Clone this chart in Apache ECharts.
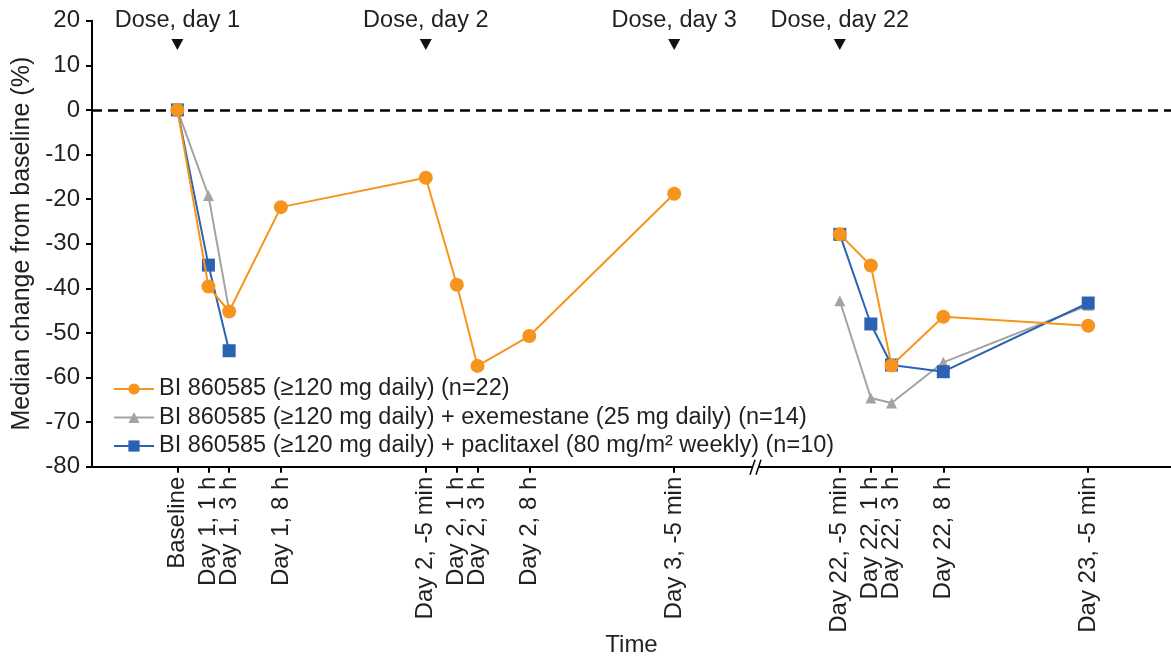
<!DOCTYPE html>
<html>
<head>
<meta charset="utf-8">
<script src="https://cdn.jsdelivr.net/npm/echarts@6/dist/echarts.min.js"></script>
<style>
html,body{margin:0;padding:0;background:#fff;}
#c{width:1171px;height:663px;}
</style>
</head>
<body>
<div id="c"></div>
<script>
// Time points (axis positions on the stylised time scale) and their labels
const timePos = [0, 3, 5, 10, 24, 27, 29, 34, 48, 64, 67, 69, 74, 88];
const timeLabels = ['Baseline', 'Day 1, 1 h', 'Day 1, 3 h', 'Day 1, 8 h',
  'Day 2, -5 min', 'Day 2, 1 h', 'Day 2, 3 h', 'Day 2, 8 h', 'Day 3, -5 min',
  'Day 22, -5 min', 'Day 22, 1 h', 'Day 22, 3 h', 'Day 22, 8 h', 'Day 23, -5 min'];
const breakPos = 56;   // axis break between Day 3 and Day 22
const breakAfterIndex = 8;

// Series values (median % change from baseline)
const mono = [0, -39.6, -45.2, -21.8, -15.2, -39.2, -57.4, -50.7, -18.8, -27.9, -34.9, -57.3, -46.4, -48.4];
const exem = [0, -19.2, -45, null, null, null, null, null, null, -42.8, -64.6, -65.7, -56.6, -43.8];
const pacl = [0, -34.8, -54.0, null, null, null, null, null, null, -27.9, -48.0, -57.2, -58.7, -43.3];

// Dose markers
const dosePos = [0, 24, 48, 64];
const doseLabels = ['Dose, day 1', 'Dose, day 2', 'Dose, day 3', 'Dose, day 22'];

const seriesNames = [
  'BI 860585 (\u2265120 mg daily) (n=22)',
  'BI 860585 (\u2265120 mg daily) + exemestane (25 mg daily) (n=14)',
  'BI 860585 (\u2265120 mg daily) + paclitaxel (80 mg/m\u00B2 weekly) (n=10)'
];

function build(vals) {
  const out = [];
  vals.forEach((v, i) => {
    out.push([timePos[i], v == null ? '-' : v]);
    if (i === breakAfterIndex) out.push([breakPos, '-']);
  });
  return out;
}

const FONT = '"Liberation Sans", Arial, Helvetica, sans-serif';
const TXT = '#231f20';
const ORANGE = '#F7941D', GRAY = '#A3A3A3', BLUE = '#2B63B2';

const chart = echarts.init(document.getElementById('c'), null, {renderer: 'canvas'});

const option = {
  animation: false,
  textStyle: {fontFamily: FONT, color: TXT},
  grid: {left: 92, right: 0, top: 20.7, bottom: 196.3, containLabel: false, outerBoundsMode: 'none'},
  legend: {
    orient: 'vertical', left: 108, top: 372,
    itemWidth: 40, itemHeight: 14, itemGap: 4.5,
    data: seriesNames,
    textStyle: {fontSize: 23.5, color: TXT, fontFamily: FONT},
    selectedMode: false
  },
  xAxis: {
    type: 'value', min: -8.25, max: 96,
    name: 'Time', nameLocation: 'middle', nameGap: 167, nameMoveOverlap: false,
    nameTextStyle: {fontSize: 24, color: TXT, fontFamily: FONT},
    axisLine: {show: true, onZero: false, lineStyle: {color: '#000', width: 2}},
    axisTick: {show: true, customValues: timePos, length: 6, lineStyle: {color: '#000', width: 2}},
    axisLabel: {
      customValues: timePos, rotate: 90, margin: 10,
      fontSize: 24, color: TXT, fontFamily: FONT,
      formatter: v => { const i = timePos.indexOf(v); return i >= 0 ? timeLabels[i] : ''; },
      hideOverlap: false
    },
    splitLine: {show: false}
  },
  yAxis: {
    type: 'value', min: -80, max: 20, interval: 10,
    name: 'Median change from baseline (%)', nameLocation: 'middle', nameGap: 57, nameMoveOverlap: false,
    nameTextStyle: {fontSize: 25, color: TXT, fontFamily: FONT},
    axisLine: {show: true, onZero: false, lineStyle: {color: '#000', width: 2}},
    axisTick: {show: true, length: 6, lineStyle: {color: '#000', width: 2}},
    axisLabel: {fontSize: 24, color: TXT, margin: 12, fontFamily: FONT},
    splitLine: {show: false}
  },
  series: [
    {
      name: seriesNames[1], type: 'line', data: build(exem), z: 2,
      symbol: 'triangle', symbolSize: 11,
      itemStyle: {color: GRAY}, lineStyle: {color: GRAY, width: 2},
      connectNulls: false
    },
    {
      name: seriesNames[2], type: 'line', data: build(pacl), z: 3,
      symbol: 'rect', symbolSize: 13,
      itemStyle: {color: BLUE}, lineStyle: {color: BLUE, width: 2},
      connectNulls: false
    },
    {
      name: seriesNames[0], type: 'line', data: build(mono), z: 4,
      symbol: 'circle', symbolSize: 14,
      itemStyle: {color: ORANGE}, lineStyle: {color: ORANGE, width: 2},
      connectNulls: false,
      markLine: {
        silent: true, symbol: 'none', label: {show: false}, z: 1,
        lineStyle: {color: '#000', width: 2.5, type: [10, 6]},
        data: [{yAxis: 0}]
      }
    }
  ]
};
chart.setOption(option);

// Decorations placed through the axis scales
const gfx = [];
dosePos.forEach((p, i) => {
  const px = chart.convertToPixel({gridIndex: 0}, [p, 20]);
  gfx.push({
    type: 'text', x: px[0], y: 21,
    style: {text: doseLabels[i], fontSize: 23.5, fontFamily: FONT, fill: TXT, align: 'center', verticalAlign: 'middle'}
  });
  gfx.push({
    type: 'polygon',
    shape: {points: [[px[0] - 6, 39], [px[0] + 6, 39], [px[0], 50]]},
    style: {fill: '#111'}
  });
});
const bp = chart.convertToPixel({gridIndex: 0}, [breakPos, -80]);
gfx.push({type: 'rect', shape: {x: bp[0] - 5, y: bp[1] - 3, width: 7, height: 6}, style: {fill: '#fff'}, z: 100});
gfx.push({type: 'line', shape: {x1: bp[0] - 7, y1: bp[1] + 8, x2: bp[0] - 2, y2: bp[1] - 7}, style: {stroke: '#000', lineWidth: 1.5}, z: 101});
gfx.push({type: 'line', shape: {x1: bp[0] - 1, y1: bp[1] + 8, x2: bp[0] + 4, y2: bp[1] - 7}, style: {stroke: '#000', lineWidth: 1.5}, z: 101});
chart.setOption({graphic: gfx});
</script>
</body>
</html>
